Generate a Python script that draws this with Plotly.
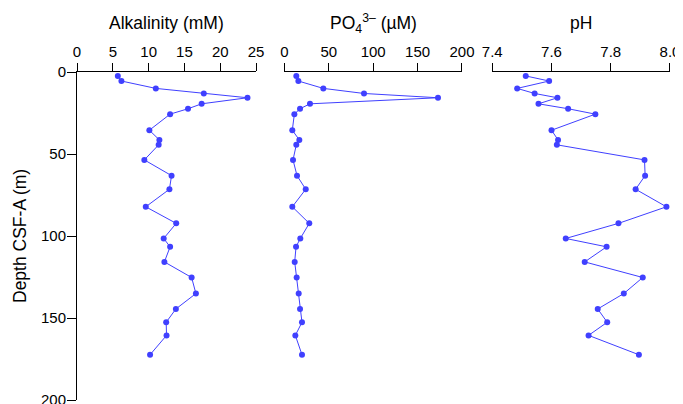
import plotly.graph_objects as go

depth = [2.4, 5.5, 10.0, 13.1, 15.7, 19.4, 22.4, 25.7, 35.5, 41.4, 44.4, 53.6, 63.2,
         71.5, 82.2, 92.3, 101.5, 106.6, 115.8, 125.3, 135.1, 144.5, 152.6, 160.6, 172.4]
alkalinity = [5.7, 6.2, 11.0, 17.7, 23.8, 17.4, 15.5, 13.0, 10.1, 11.5, 11.4, 9.4, 13.2,
              12.9, 9.6, 13.85, 12.1, 13.0, 12.2, 16.0, 16.6, 13.8, 12.45, 12.5, 10.2]
phosphate = [13.5, 15.8, 43.9, 89.7, 173.0, 28.9, 17.7, 11.3, 9.0, 16.9, 13.5, 9.8, 14.3,
             24.1, 9.0, 28.1, 18.0, 13.2, 11.7, 13.9, 16.2, 17.7, 19.9, 12.4, 19.9]
ph = [7.513, 7.592, 7.484, 7.543, 7.620, 7.556, 7.656, 7.748, 7.600, 7.622, 7.618, 7.914, 7.916,
      7.884, 7.988, 7.826, 7.648, 7.786, 7.712, 7.908, 7.844, 7.756, 7.788, 7.725, 7.895]

alk_ticks = [0, 5, 10, 15, 20, 25]
po4_ticks = [0, 50, 100, 150, 200]
ph_ticks = [7.4, 7.6, 7.8, 8.0]
depth_ticks = [0, 50, 100, 150, 200]

titles = ["Alkalinity (mM)", "PO<sub>4</sub><sup>3–</sup> (µM)", "pH"]

BLUE = "#4040ff"
FONT = "Liberation Sans, Arial, Helvetica, sans-serif"

fig = go.Figure()
series = [(alkalinity, "x"), (phosphate, "x2"), (ph, "x3")]
for vals, xa in series:
    fig.add_trace(go.Scatter(
        x=vals, y=depth, xaxis=xa, yaxis="y", mode="lines+markers",
        line=dict(color=BLUE, width=1),
        marker=dict(color=BLUE, size=6),
        showlegend=False, cliponaxis=False,
    ))

common_x = dict(side="top", anchor="y", showline=True, linecolor="black", linewidth=1,
                ticks="outside", ticklen=8, tickwidth=1, tickcolor="black",
                showgrid=False, zeroline=False, automargin=False,
                ticklabeloverflow="allow",
                tickfont=dict(size=15, color="black", family=FONT))

# page body has an 8px default margin, so the figure is sized/offset to compensate
fig.update_layout(
    width=675, height=396,
    margin=dict(l=69, r=13, t=64, b=4, autoexpand=False),
    paper_bgcolor="white", plot_bgcolor="white",
    font=dict(family=FONT, color="black"),
    xaxis=dict(domain=[0, 0.302], range=[0, 25], tickvals=alk_ticks, **common_x),
    xaxis2=dict(domain=[0.3496, 0.6492], range=[0, 200], tickvals=po4_ticks, **common_x),
    xaxis3=dict(domain=[0.7003, 1.0], range=[7.4, 8.0], tickvals=ph_ticks,
                tickformat=".1f", **common_x),
    yaxis=dict(domain=[0, 1], range=[200, 0], anchor="x", tickvals=depth_ticks,
               showline=True, linecolor="black", linewidth=1,
               ticks="outside", ticklen=9, tickwidth=1, tickcolor="black",
               showgrid=False, zeroline=False, automargin=False,
               ticklabeloverflow="allow", ticklabelstandoff=-2,
               tickfont=dict(size=15, color="black", family=FONT)),
)

centers = [0.151, 0.4994, 0.85015]
for c, t in zip(centers, titles):
    fig.add_annotation(text=t, xref="paper", yref="paper", x=c, y=1,
                       xanchor="center", yanchor="middle", yshift=49,
                       showarrow=False, font=dict(size=17.5, color="black", family=FONT))

fig.add_annotation(text="Depth CSF-A (m)", xref="paper", yref="paper", x=0, y=0.5,
                   xshift=-57, textangle=-90, xanchor="center", yanchor="middle",
                   showarrow=False, font=dict(size=17.5, color="black", family=FONT))

fig.write_html("out.html")
